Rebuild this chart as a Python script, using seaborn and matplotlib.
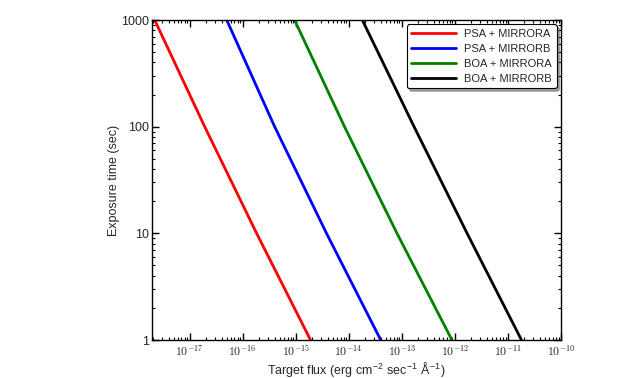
import numpy as np
import pandas as pd
import seaborn as sns
import matplotlib.pyplot as plt
from matplotlib.ticker import FuncFormatter, LogLocator

# exposure times (sec)
exp_time = [1, 10, 100, 1000]

# target flux needed for each exposure time (erg cm-2 s-1 A-1)
flux_psa_a = [1.9e-15, 1.83e-16, 1.92e-17, 2.19e-18]
flux_psa_b = [4.0e-14, 3.8e-15, 4.0e-16, 5.0e-17]
flux_boa_a = [8.8e-13, 8.1e-14, 8.3e-15, 9.5e-16]
flux_boa_b = [1.8e-11, 1.7e-12, 1.7e-13, 1.8e-14]

labels = ["PSA + MIRRORA", "PSA + MIRRORB", "BOA + MIRRORA", "BOA + MIRRORB"]
colors = ["#ff0000", "#0000ff", "#008000", "#000000"]

frames = []
for lab, fl in zip(labels, [flux_psa_a, flux_psa_b, flux_boa_a, flux_boa_b]):
    frames.append(pd.DataFrame({"flux": fl, "time": exp_time, "config": lab}))
df = pd.concat(frames, ignore_index=True)

sns.set_style("ticks")
plt.rcParams["font.family"] = ["Liberation Sans", "DejaVu Sans"]
plt.rcParams["mathtext.fontset"] = "cm"
plt.rcParams["xtick.direction"] = "in"
plt.rcParams["ytick.direction"] = "in"

fig = plt.figure(figsize=(6.24, 3.78), dpi=100)
ax = fig.add_axes([0.2436, 0.1005, 0.6554, 0.8465])

sns.lineplot(data=df, x="flux", y="time", hue="config", palette=colors,
             hue_order=labels, estimator=None, sort=True, linewidth=2, ax=ax)

ax.set_xscale("log")
ax.set_yscale("log")
ax.set_xlim(1.95e-18, 1e-10)
ax.set_ylim(1, 1000)

ax.xaxis.set_major_locator(LogLocator(base=10, numticks=20))
ax.xaxis.set_minor_locator(LogLocator(base=10, subs=np.arange(2, 10), numticks=20))
ax.xaxis.set_major_formatter(FuncFormatter(lambda v, p: r"$10^{%d}$" % round(np.log10(v))))
ax.yaxis.set_major_formatter(FuncFormatter(lambda v, p: "%d" % v))

ax.tick_params(which="both", top=True, right=True, direction="in", color="black")
ax.tick_params(which="major", length=5, width=1)
ax.tick_params(which="minor", length=2.5, width=0.8)
ax.tick_params(axis="x", labelsize=8.5, pad=3)
ax.tick_params(axis="y", labelsize=9, pad=2)
for sp in ax.spines.values():
    sp.set_color("black")
    sp.set_linewidth(1)

ax.set_xlabel(r"Target flux (erg cm$^{\mathdefault{-2}}$ sec$^{\mathdefault{-1}}$ Å$^{\mathdefault{-1}}$)",
              fontsize=9)
ax.xaxis.set_label_coords(0.5, -0.062)
ax.set_ylabel("Exposure time (sec)", fontsize=9)
ax.yaxis.set_label_coords(-0.078, 0.5)

leg = ax.legend(loc="upper right", fontsize=8, fancybox=True, shadow=True,
                frameon=True, handlelength=4, borderaxespad=0.4,
                labelspacing=0.45, edgecolor="black")
leg.get_frame().set_alpha(1)
leg.get_frame().set_linewidth(0.8)

fig.savefig("out.png", dpi=100)
